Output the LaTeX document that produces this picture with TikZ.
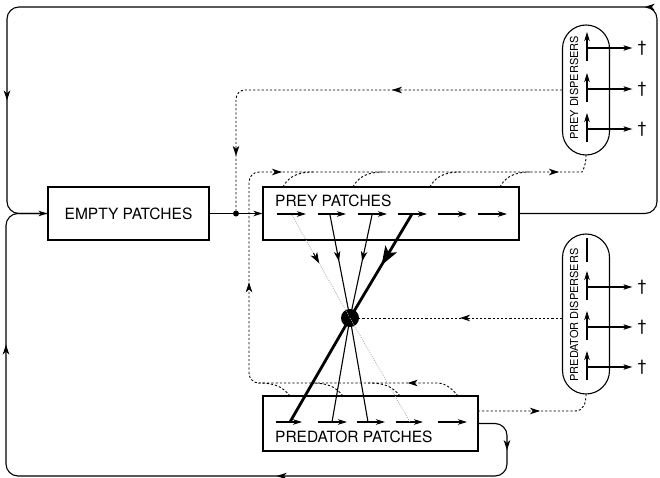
\documentclass[tikz,border=0pt]{standalone}
\usepackage{fontspec}
\setmainfont{TeX Gyre Heros}
\usetikzlibrary{arrows.meta,decorations.markings,calc}
\begin{document}
\begin{tikzpicture}[x=1pt,y=-1pt,
  endtip/.style={-{Stealth[length=9pt,width=5.5pt,inset=2.5pt]}},
  marr/.style={postaction={decorate,solid,decoration={markings,mark=at position #1 with {\arrow{Stealth[length=10pt,width=6.5pt,inset=2.8pt]}}}}},
  marrb/.style={postaction={decorate,solid,line width=1pt,decoration={markings,mark=at position #1 with {\arrow{Stealth[length=14pt,width=10pt,inset=3.5pt]}}}}},
  flow/.style={line width=1.1pt},
  heavy/.style={line width=2.8pt},
  disp/.style={line width=0.9pt, dash pattern=on 2.2pt off 2pt},
  faint/.style={line width=0.7pt, gray!65, dash pattern=on 1pt off 1.2pt},
  box/.style={draw, line width=1.1pt, rectangle, inner sep=0pt},
  capsule/.style={draw, line width=1.1pt, rectangle, rounded corners=23.5pt, minimum width=47pt, inner sep=0pt},
  lab/.style={font=\fontsize{15.5}{18}\selectfont},
  slab/.style={font=\fontsize{11}{13}\selectfont, rotate=90, inner sep=0pt},
  dag/.style={font=\fontsize{16}{16}\selectfont, inner sep=0pt}
]
\useasboundingbox (0,0) rectangle (660,478);

% boxes
\node[box, minimum width=161pt, minimum height=53pt, lab] (empty) at (128.5,213.5) {EMPTY PATCHES};
\node[box, minimum width=256pt, minimum height=53pt] (prey) at (391,213.5) {};
\node[lab, anchor=west, inner sep=0pt] (preytxt) at (275,201) {PREY PATCHES};
\node[box, minimum width=215pt, minimum height=55pt] (pred) at (370.5,423.5) {};
\node[lab, anchor=west, inner sep=0pt] (predtxt) at (275,437) {PREDATOR PATCHES};

% capsules
\node[capsule, minimum height=130pt] (preydisp) at (586,90) {};
\node[capsule, minimum height=160pt] (preddisp) at (586,314) {};
\node[slab] (preydlab) at (574,88) {PREY DISPERSERS};
\node[slab] (preddlab) at (574,315) {PREDATOR DISPERSERS};

\foreach \y [count=\i] in {48,89,129} {
  \coordinate (pv\i) at (587,\y);
  \node[dag] (pdag\i) at (642,\y) {†};
  \draw[flow, endtip] (587,\y+13) -- (587,\y-16);
  \draw[flow, endtip] (pv\i) -- ([xshift=-5pt]pdag\i.west);
}
\draw[flow] (587,238) -- (587,262);
\foreach \y [count=\i] in {287,327,367} {
  \coordinate (qv\i) at (587,\y);
  \node[dag] (qdag\i) at (642,\y) {†};
  \draw[flow, endtip] (587,\y+13) -- (587,\y-16);
  \draw[flow, endtip] (qv\i) -- ([xshift=-5pt]qdag\i.west);
}

% age-class arrows in the patches
\foreach \a/\b in {277/306,318/346,358/387,398/427,438/467,478/507}
  \draw[flow, endtip] (\a,214) -- (\b,214);
\foreach \a/\b in {276/302,318/347,357/385,396/423,438/467}
  \draw[flow, endtip] (\a,422) -- (\b,422);

% predation hub
\node[circle, fill, inner sep=0pt, minimum size=18pt] (hub) at (350,318) {};
\coordinate (a1) at (292,215);
\coordinate (a2) at (330,215);
\coordinate (a3) at (372,215);
\coordinate (a4) at (412,214);
\coordinate (b1) at (290,422);
\coordinate (b2) at (332,422);
\coordinate (b3) at (368,422);
\coordinate (b4) at (410,422);
\draw[faint] (a1) -- (hub.center);
\draw[line width=1pt, black, -{Stealth[length=11pt,width=7.5pt,inset=3pt]}]
  ($(a1)!0.37!(hub.center)$) -- ($(a1)!0.47!(hub.center)$);
\draw[flow, marr=0.45] (a2) -- (hub.center);
\draw[flow, marr=0.45] (a3) -- (hub.center);
\draw[heavy, marrb=0.47] (a4) -- (hub.center);
\draw[heavy] (hub.center) -- (b1);
\draw[flow] (hub.center) -- (b2);
\draw[flow] (hub.center) -- (b3);
\draw[faint] (hub.center) -- (b4);

% empty -> prey with junction
\draw[flow, endtip] (empty.east) -- (prey.west);
\node[circle, fill, inner sep=0pt, minimum size=6pt] (jn) at (236,213.5) {};

% prey dispersers colonise empty patches
\draw[disp, rounded corners=9pt, marr=170pt, marr=388pt] (preydisp.west) -- (236,90) -- (jn.north);

% prey emigration to prey dispersers
\coordinate (c1) at (458,396);
\draw[disp, rounded corners=10pt, marr=55pt, marr=310pt, marr=449pt, marr=726pt]
  (c1) .. controls (450,386) and (443,383) .. (428,383) -- (249,383) -- (249,172) -- (572,172)
  .. controls (582,172) and (586,166) .. (preydisp.south);
\foreach \x in {283,353,430,500}
  \draw[disp] (\x,187) .. controls (\x+4,179) and (\x+12,172) .. (\x+30,172);
\foreach \x in {290,343,400}
  \draw[disp] (\x,396) .. controls (\x-8,386) and (\x-16,383) .. (\x-32,383);

% predator dispersers
\draw[disp, marr=102pt] (preddisp.west |- hub) -- (hub);
\coordinate (d1) at (478,411);
\draw[disp, marr=62pt] (d1) -- (575,411) .. controls (583,411) and (586,404) .. (preddisp.south);

% outer loops
\draw[flow, rounded corners=12pt, endtip, marr=346pt, marr=1072pt]
  (prey.east) -- (657,213.5) -- (657,7) -- (7,7) -- (7,213.5) -- (empty.west);
\draw[flow, rounded corners=12pt, marr=50pt, marr=301pt, marr=698pt]
  (pred.east) -- (507,423.5) -- (507,476) -- (6,476) -- (6,213.5) -- (empty.west);
\end{tikzpicture}
\end{document}
